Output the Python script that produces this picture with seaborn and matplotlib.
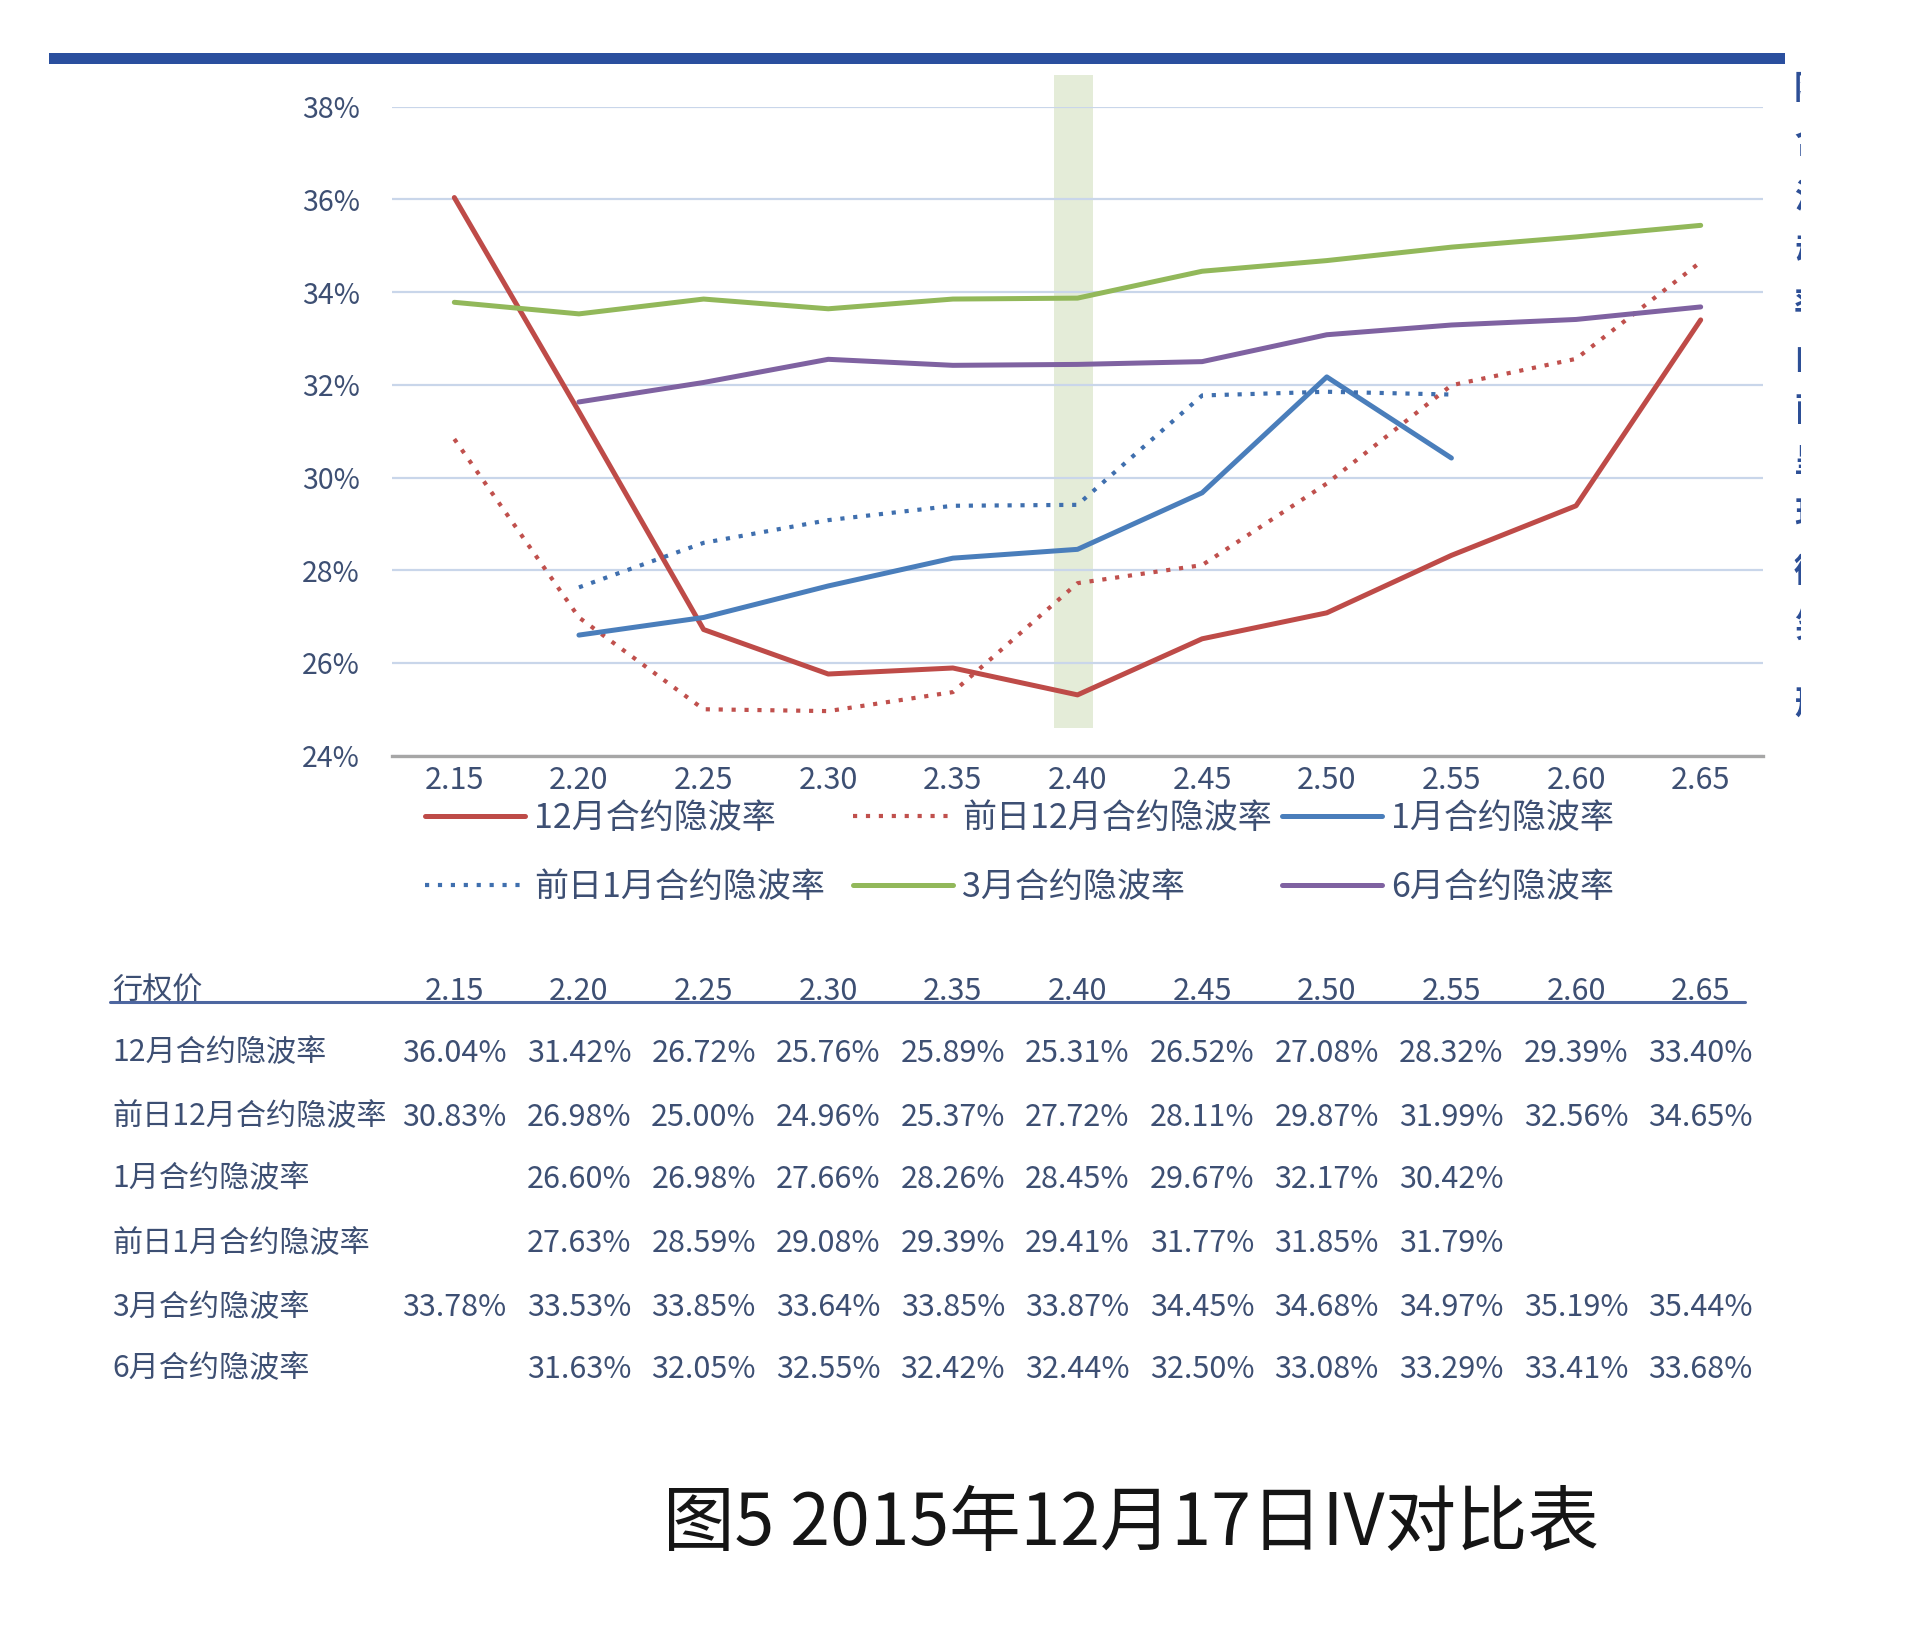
import numpy as np
import pandas as pd
import matplotlib
matplotlib.use("Agg")
import matplotlib.pyplot as plt
import seaborn as sns
from matplotlib.lines import Line2D
from matplotlib.patches import Rectangle
from matplotlib.transforms import blended_transform_factory

# ---------------- data ----------------
strikes = [2.15, 2.20, 2.25, 2.30, 2.35, 2.40, 2.45, 2.50, 2.55, 2.60, 2.65]
strike_labels = ["2.15", "2.20", "2.25", "2.30", "2.35", "2.40", "2.45", "2.50", "2.55", "2.60", "2.65"]
nan = np.nan
iv_dec = [36.04, 31.42, 26.72, 25.76, 25.89, 25.31, 26.52, 27.08, 28.32, 29.39, 33.40]
iv_dec_prev = [30.83, 26.98, 25.00, 24.96, 25.37, 27.72, 28.11, 29.87, 31.99, 32.56, 34.65]
iv_jan = [nan, 26.60, 26.98, 27.66, 28.26, 28.45, 29.67, 32.17, 30.42, nan, nan]
iv_jan_prev = [nan, 27.63, 28.59, 29.08, 29.39, 29.41, 31.77, 31.85, 31.79, nan, nan]
iv_mar = [33.78, 33.53, 33.85, 33.64, 33.85, 33.87, 34.45, 34.68, 34.97, 35.19, 35.44]
iv_jun = [nan, 31.63, 32.05, 32.55, 32.42, 32.44, 32.50, 33.08, 33.29, 33.41, 33.68]
series_names = ["12月合约隐波率", "前日12月合约隐波率", "1月合约隐波率",
                "前日1月合约隐波率", "3月合约隐波率", "6月合约隐波率"]
series_values = [iv_dec, iv_dec_prev, iv_jan, iv_jan_prev, iv_mar, iv_jun]
y_ticks = [24, 26, 28, 30, 32, 34, 36, 38]
highlight_strike = 2.40
header_label = "行权价"
title_text = "图5 2015年12月17日IV对比表"
side_note_chars = list("隐含波动率曲面呈现微笑形")

# ---------------- style ----------------
series_colors = ["#be4b48", "#c0504d", "#4a7ebb", "#3f6fae", "#92b85a", "#7f62a1"]
series_styles = ["-", (0, (1, 2.1)), "-", (0, (1, 2.1)), "-", "-"]
series_widths = [3.6, 3.0, 3.6, 3.0, 3.6, 3.6]
text_color = "#3d4f73"
tw = "medium"

sns.set_theme(style="white")
plt.rcParams["font.family"] = ["Noto Sans CJK SC", "DejaVu Sans"]
plt.rcParams["axes.unicode_minus"] = False

W, H = 1920, 1629
fig = plt.figure(figsize=(W / 100, H / 100), dpi=100)
fig.patch.set_facecolor("white")

def fx(px):
    return px / W

def fy(py):
    return 1 - py / H

ax = fig.add_axes([fx(392), fy(755.6), (1763 - 392) / W, (755.6 - 106.7) / H])
ax.set_facecolor("white")

df = pd.DataFrame({"strike": strikes})
for name, vals in zip(series_names, series_values):
    df[name] = vals

# highlight band at 2.40
ax.bar([highlight_strike - 0.0015], [38.68 - 24.6], bottom=24.6, width=0.0157,
       color="#e4ecd8", zorder=0.1, clip_on=False, linewidth=0)

for name, c, ls, lw in zip(series_names, series_colors, series_styles, series_widths):
    sub = df[["strike", name]].dropna()
    sns.lineplot(data=sub, x="strike", y=name, ax=ax, color=c, linestyle=ls,
                 linewidth=lw, legend=False, zorder=3)

ax.set_xlim(2.125, 2.675)
ax.set_ylim(24, 38)
ax.set_xticks(strikes)
ax.set_xticklabels(strike_labels, fontweight=tw)
ax.set_yticks(y_ticks)
ax.set_yticklabels([f"{v}%" for v in y_ticks], fontweight=tw)
ax.set_xlabel("")
ax.set_ylabel("")
ax.set_axisbelow(True)
ax.yaxis.grid(True, color="#c9d6ea", linewidth=1.6)
ax.xaxis.grid(False)
for s in ["top", "right", "left"]:
    ax.spines[s].set_visible(False)
ax.spines["bottom"].set_color("#a6a6a6")
ax.spines["bottom"].set_linewidth(2.4)
ax.tick_params(axis="y", length=0, pad=23, labelsize=20.5, labelcolor=text_color)
ax.tick_params(axis="x", length=0, pad=7, labelsize=22, labelcolor=text_color)

# legend: one entry per slot (two rows x three columns)
legend_slots = [(425, 818), (853, 818), (1282, 818), (425, 887), (853, 887), (1282, 887)]
fs_leg = 24.5
fs_px = fs_leg * 100 / 72
for (lx, ly), name, c, ls, lw in zip(legend_slots, series_names, series_colors, series_styles, series_widths):
    h = Line2D([0], [0], color=c, linestyle=ls, linewidth=lw)
    fig.legend(handles=[h], labels=[name], loc="center left",
               bbox_to_anchor=(fx(lx), fy(ly)), bbox_transform=fig.transFigure,
               frameon=False, borderpad=0, borderaxespad=0,
               handlelength=100 / fs_px, handletextpad=9 / fs_px,
               prop={"size": fs_leg, "weight": tw}, labelcolor=text_color)

# table below
tr = blended_transform_factory(ax.transData, fig.transFigure)
header_y = 991
row_ys = [1053, 1117, 1179, 1244, 1308, 1369]
fig.text(fx(112), fy(header_y), header_label, fontsize=21.7, color=text_color,
         ha="left", va="center", fontweight=tw)
for x, lab in zip(strikes, strike_labels):
    ax.text(x, fy(header_y), lab, transform=tr, fontsize=22, color=text_color,
            ha="center", va="center", clip_on=False, fontweight=tw)
fig.add_artist(Line2D([fx(110), fx(1745)], [fy(1002), fy(1002)], transform=fig.transFigure,
                      color="#4d66a0", linewidth=2.2))
for ry, name, vals in zip(row_ys, series_names, series_values):
    fig.text(fx(112), fy(ry), name, fontsize=21.7, color=text_color, ha="left", va="center",
             fontweight=tw)
    for x, v in zip(strikes, vals):
        if not np.isnan(v):
            ax.text(x, fy(ry), f"{v:.2f}%", transform=tr, fontsize=22, color=text_color,
                    ha="center", va="center", clip_on=False, fontweight=tw)

# top blue rule
fig.add_artist(Rectangle((fx(49), fy(64)), (1785 - 49) / W, 11 / H, transform=fig.transFigure,
                         color="#2a4f9e", linewidth=0))

# clipped side note on the right edge
ax_note = fig.add_axes([fx(1794), fy(760), 7 / W, (760 - 70) / H])
ax_note.axis("off")
note_ys = [90, 143, 198, 252, 306, 359, 411, 463, 515, 572, 627, 704]
trn = blended_transform_factory(ax_note.transAxes, fig.transFigure)
for ch, ny in zip(side_note_chars, note_ys):
    ax_note.text(0, fy(ny), ch, transform=trn, fontsize=24, color="#2d4f96",
                 ha="left", va="center", clip_on=True, fontweight="bold")

# title
fig.text(fx(1131), fy(1524), title_text, fontsize=51.5, color="#151515", ha="center", va="center")

fig.savefig("out.png", dpi=100, facecolor="white")
